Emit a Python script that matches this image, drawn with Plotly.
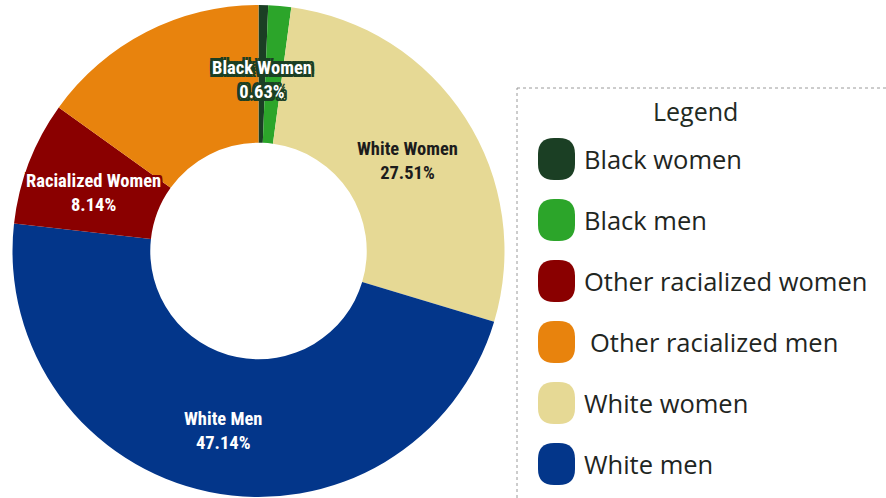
import math
import plotly.graph_objects as go

# Share of each group (percent), in drawing order clockwise from 12 o'clock
slice_names = ["Black women", "Black men", "White women", "White men",
               "Other racialized women", "Other racialized men"]
slice_values = [0.63, 1.50, 27.51, 47.14, 8.14, 15.08]
slice_colors = ["#1b3f24", "#2ca52a", "#e6d995", "#03368a", "#8a0000", "#e8830d"]

# In-ring labels (None = no label on that slice)
slice_labels = ["Black Women", None, "White Women", "White Men", "Racialized Women", None]
label_ink = ["#ffffff", None, "#1c1c1c", "#ffffff", "#ffffff", None]

# Legend entries, in listed order
legend_title = "Legend"
legend_names = ["Black women", "Black men", "Other racialized women",
                "Other racialized men", "White women", "White men"]

W, H = 886, 498
CX, CY, R = 258.5, 251.0, 246.0
HOLE = 0.44


def px(x):
    return x / W


def py(y):
    return 1 - y / H


fig = go.Figure()
fig.add_trace(go.Pie(
    labels=slice_names,
    values=slice_values,
    marker=dict(colors=slice_colors, line=dict(width=0)),
    hole=HOLE,
    sort=False,
    direction="clockwise",
    rotation=0,
    textinfo="none",
    hoverinfo="label+percent",
    showlegend=False,
    domain=dict(x=[px(CX - R), px(CX + R)], y=[py(CY + R), py(CY - R)]),
))

# Slice labels placed in the middle of the ring, at each slice's mid-angle
total = sum(slice_values)
ring_mid = R * (1 + HOLE) / 2
cum = 0.0
annotations = []
label_font = "Roboto Condensed, DejaVu Sans Condensed, Liberation Sans Narrow, sans-serif"
for name, val, lab, ink, col in zip(slice_names, slice_values, slice_labels, label_ink, slice_colors):
    mid = (cum + val / 2) / total * 2 * math.pi
    cum += val
    if lab is None:
        continue
    x = CX + ring_mid * math.sin(mid)
    y = CY - ring_mid * math.cos(mid)
    s = 3 if name == "Black women" else 2
    offs = [(s, 0), (-s, 0), (0, s), (0, -s), (s, s), (-s, -s), (s, -s), (-s, s)]
    shadow = "none" if ink != "#ffffff" else ", ".join(f"{a}px {b}px 0 {col}" for a, b in offs)
    annotations.append(dict(
        x=px(x), y=py(y), xref="paper", yref="paper",
        text=f"<b>{lab}</b><br><b>{val / total * 100:.2f}%</b>",
        showarrow=False, xanchor="center", yanchor="middle", yshift=-6,
        align="center",
        font=dict(family=label_font, size=18.5, color=ink, shadow=shadow),
    ))

# Custom legend: dotted frame, title, rounded swatches and names
shapes = [dict(type="rect", xref="paper", yref="paper",
               x0=px(517), y0=py(88), x1=px(900), y1=py(510),
               line=dict(color="#9a9a9a", width=1, dash="dot"),
               fillcolor="rgba(0,0,0,0)")]

legend_font = "Open Sans, sans-serif"
annotations.append(dict(
    x=px(695), y=py(111), xref="paper", yref="paper", text=legend_title,
    showarrow=False, xanchor="center", yanchor="middle",
    font=dict(family=legend_font, size=25, color="#222a22"),
))


def rounded_rect(x0, y0, x1, y1, r):
    return (f"M {px(x0 + r)},{py(y0)} L {px(x1 - r)},{py(y0)} "
            f"Q {px(x1)},{py(y0)} {px(x1)},{py(y0 + r)} L {px(x1)},{py(y1 - r)} "
            f"Q {px(x1)},{py(y1)} {px(x1 - r)},{py(y1)} L {px(x0 + r)},{py(y1)} "
            f"Q {px(x0)},{py(y1)} {px(x0)},{py(y1 - r)} L {px(x0)},{py(y0 + r)} "
            f"Q {px(x0)},{py(y0)} {px(x0 + r)},{py(y0)} Z")


color_of = dict(zip(slice_names, slice_colors))
row0, step = 159, 61
for i, name in enumerate(legend_names):
    yc = row0 + i * step
    shapes.append(dict(type="path", xref="paper", yref="paper",
                       path=rounded_rect(538, yc - 21, 575, yc + 21, 16),
                       fillcolor=color_of[name], line=dict(width=0)))
    annotations.append(dict(
        x=px(588 if name == "Other racialized men" else 582), y=py(yc),
        xref="paper", yref="paper", text=name, showarrow=False,
        xanchor="left", yanchor="middle",
        font=dict(family=legend_font, size=25.5, color="#1f261f"),
    ))

fig.update_layout(
    width=W, height=H,
    margin=dict(l=0, r=0, t=0, b=0),
    paper_bgcolor="#ffffff", plot_bgcolor="#ffffff",
    annotations=annotations, shapes=shapes,
    showlegend=False,
)

fig.write_html("out.html")
